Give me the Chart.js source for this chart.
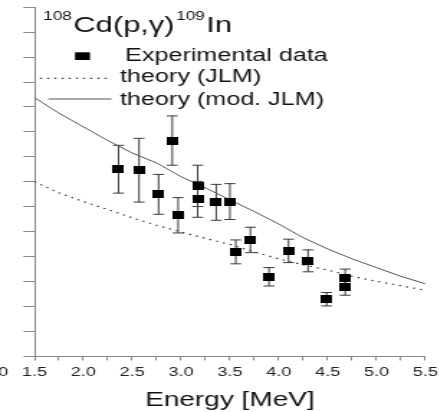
<!DOCTYPE html>
<html>
<head>
<meta charset="utf-8">
<script src="https://cdn.jsdelivr.net/npm/chart.js@4.4.1/dist/chart.umd.min.js"></script>
<style>
  html, body { margin: 0; padding: 0; background: #fff; overflow: hidden; }
  /* plot is laid out narrow and stretched sideways like the printed figure */
  #plot { display: block; transform: scaleX(1.4373); transform-origin: 0 0; }
</style>
</head>
<body>
<canvas id="plot" width="311" height="412"></canvas>
<script>
const FONT = '"Liberation Sans", Arial, Helvetica, sans-serif';

// measured points: proton energy (MeV), cross section, 1-sigma error
const energies = [2.36, 2.57, 2.77, 2.91, 2.97, 3.17, 3.17, 3.36, 3.50, 3.56, 3.71, 3.90, 4.10, 4.30, 4.49, 4.68, 4.68];
const sigma    = [7.50, 7.46, 6.49, 8.65, 5.65, 6.83, 6.29, 6.17, 6.20, 4.18, 4.66, 3.18, 4.22, 3.82, 2.28, 3.14, 2.76];
const sigmaErr = [0.96, 1.28, 0.80, 0.99, 0.71, 0.83, 0.72, 0.72, 0.72, 0.48, 0.51, 0.37, 0.47, 0.44, 0.27, 0.35, 0.32];

// model curves
const theoryE = [1.5, 1.75, 2.0, 2.25, 2.5, 2.75, 3.0, 3.25, 3.5, 3.75, 4.0, 4.25, 4.5, 4.75, 5.0, 5.25, 5.5];
const jlm     = [7.00, 6.55, 6.20, 5.88, 5.55, 5.25, 4.98, 4.72, 4.48, 4.18, 3.90, 3.66, 3.45, 3.20, 3.00, 2.82, 2.64];
const modJlm  = [10.37, 9.75, 9.20, 8.65, 8.15, 7.75, 7.20, 6.75, 6.27, 5.80, 5.30, 4.75, 4.30, 3.90, 3.55, 3.20, 2.90];

const legendLabels = ['Experimental data', 'theory (JLM)', 'theory (mod. JLM)'];

const pairs = (xs, ys) => xs.map((x, i) => ({ x, y: ys[i] }));

// filled box used as the data marker
const box = document.createElement('canvas');
box.width = 8; box.height = 8;
const bctx = box.getContext('2d');
bctx.fillStyle = '#000';
bctx.fillRect(0, 0, 8, 8);

const errorBars = {
  id: 'errorBars',
  beforeDatasetsDraw(chart) {
    const { ctx, scales: { x, y } } = chart;
    ctx.save();
    ctx.strokeStyle = '#3a3a3a';
    ctx.lineWidth = 1;
    energies.forEach((e, i) => {
      const px = x.getPixelForValue(e);
      const top = y.getPixelForValue(sigma[i] + sigmaErr[i]);
      const bot = y.getPixelForValue(sigma[i] - sigmaErr[i]);
      ctx.beginPath();
      ctx.moveTo(px, top); ctx.lineTo(px, bot);
      ctx.moveTo(px - 3.8, top); ctx.lineTo(px + 3.8, top);
      ctx.moveTo(px - 3.8, bot); ctx.lineTo(px + 3.8, bot);
      ctx.stroke();
    });
    ctx.restore();
  }
};

// reaction label and hand-placed legend in the upper left
const labels = {
  id: 'labels',
  afterDraw(chart) {
    const ctx = chart.ctx;
    const ds = chart.data.datasets;
    ctx.save();
    ctx.fillStyle = '#111';
    ctx.textBaseline = 'alphabetic';

    // 108Cd(p,γ)109In
    const sup = '12px ' + FONT, big = '21.5px ' + FONT;
    let x = 30;
    ctx.font = sup; ctx.fillText('108', x, 19.5); x += ctx.measureText('108').width + 1;
    ctx.font = big; ctx.fillText('Cd(p,γ)', x, 31.7); x += ctx.measureText('Cd(p,γ)').width + 1;
    ctx.font = sup; ctx.fillText('109', x, 19.5); x += ctx.measureText('109').width + 1;
    ctx.font = big; ctx.fillText('In', x, 31.7);

    // legend rows
    ctx.font = '17.5px ' + FONT;
    ctx.fillStyle = '#000';
    ctx.fillRect(52.2, 52.3, 10.4, 7.7);
    ctx.fillStyle = '#111';
    ctx.fillText(legendLabels[0], 87, 61);

    ctx.strokeStyle = ds[1].borderColor;
    ctx.lineWidth = ds[1].borderWidth;
    ctx.setLineDash(ds[1].borderDash);
    ctx.beginPath(); ctx.moveTo(27.8, 78.3); ctx.lineTo(74.2, 78.3); ctx.stroke();
    ctx.fillText(legendLabels[1], 83.5, 82.3);

    ctx.strokeStyle = ds[2].borderColor;
    ctx.lineWidth = ds[2].borderWidth;
    ctx.setLineDash([]);
    ctx.beginPath(); ctx.moveTo(33.6, 99); ctx.lineTo(77.7, 99); ctx.stroke();
    ctx.fillText(legendLabels[2], 83.5, 105);

    // clipped tick label at the left edge
    ctx.font = '12.5px ' + FONT;
    ctx.fillStyle = '#222';
    ctx.textAlign = 'right';
    ctx.textBaseline = 'middle';
    ctx.fillText('0', 5.8, 372.8);
    ctx.restore();
  }
};

new Chart(document.getElementById('plot'), {
  type: 'scatter',
  data: {
    datasets: [
      {
        label: legendLabels[0],
        data: pairs(energies, sigma),
        pointStyle: box,
        pointRadius: 4,
        showLine: false,
        order: 0
      },
      {
        label: legendLabels[1],
        data: pairs(theoryE, jlm),
        showLine: true,
        pointRadius: 0,
        borderColor: '#333',
        borderWidth: 1.2,
        borderDash: [1.4, 3.6],
        tension: 0,
        order: 1
      },
      {
        label: legendLabels[2],
        data: pairs(theoryE, modJlm),
        showLine: true,
        pointRadius: 0,
        borderColor: '#555',
        borderWidth: 1,
        tension: 0,
        order: 2
      }
    ]
  },
  options: {
    responsive: false,
    animation: false,
    devicePixelRatio: 1,
    layout: { padding: { left: 0, top: 7.3, right: 15.1, bottom: 0 } },
    plugins: { legend: { display: false }, tooltip: { enabled: false } },
    scales: {
      x: {
        type: 'linear',
        min: 1.5,
        max: 5.5,
        afterFit: s => { s.height = 56; },
        border: { color: '#888', width: 1 },
        grid: { drawOnChartArea: false, drawTicks: true, tickLength: 4.5, color: '#888' },
        ticks: {
          stepSize: 0.25,
          autoSkip: false,
          maxRotation: 0,
          padding: 5,
          color: '#222',
          font: { family: FONT, size: 12.5 },
          callback: v => (Math.abs(v * 2 - Math.round(v * 2)) < 1e-6 ? v.toFixed(1) : '')
        },
        title: {
          display: true,
          text: 'Energy [MeV]',
          color: '#111',
          padding: { top: 0, bottom: 0 },
          font: { family: FONT, size: 19.5, lineHeight: 1.2 }
        }
      },
      y: {
        type: 'linear',
        min: 0,
        max: 14,
        afterFit: s => { s.width = 24; },
        border: { color: '#888', width: 1 },
        grid: { drawOnChartArea: false, drawTicks: true, tickLength: 7.7, color: '#888' },
        ticks: { stepSize: 1, display: false }
      }
    }
  },
  plugins: [errorBars, labels]
});
</script>
</body>
</html>
